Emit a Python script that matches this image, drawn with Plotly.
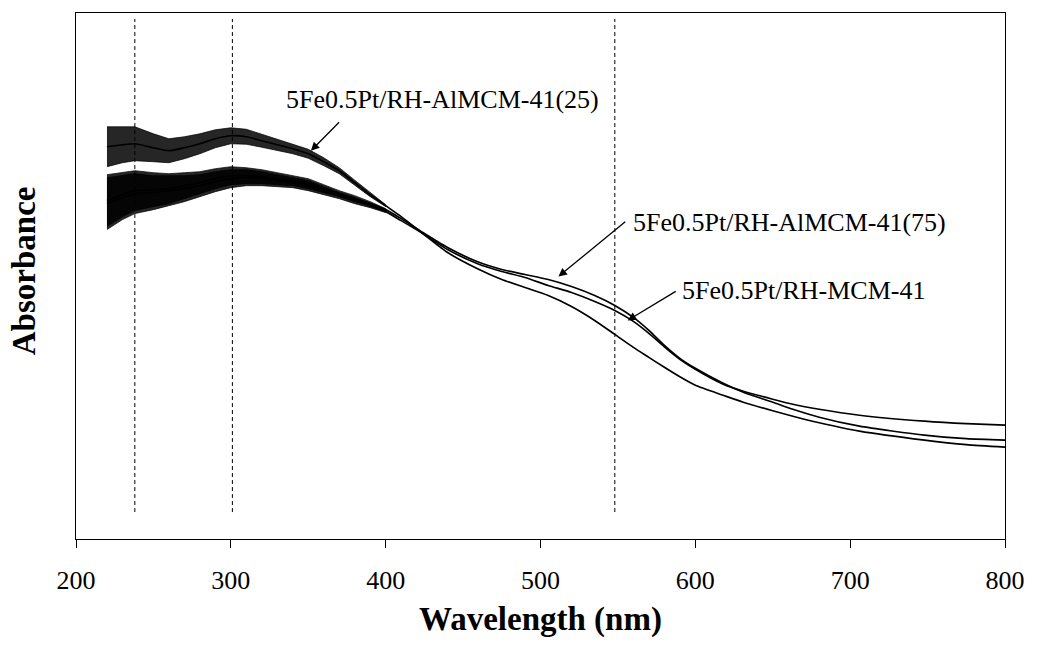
import plotly.graph_objects as go

wavelength = [220, 230, 238, 250, 260, 270, 280, 290, 300, 310, 320, 330, 340, 350,
              360, 370, 380, 390, 400, 410, 424, 440, 459, 475, 490, 505, 520, 535,
              548, 560, 570, 580, 590, 600, 618, 631, 650, 663, 680, 706, 748, 775, 800]

# Absorbance (a.u.)
abs_almcm25 = [0.786, 0.790, 0.792, 0.784, 0.778, 0.784, 0.792, 0.802, 0.808, 0.806,
               0.798, 0.790, 0.782, 0.772, 0.756, 0.738, 0.714, 0.690, 0.668, 0.646,
               0.612, 0.574, 0.542, 0.520, 0.504, 0.488, 0.466, 0.438, 0.410, 0.384,
               0.364, 0.344, 0.325, 0.308, 0.288, 0.274, 0.257, 0.246, 0.233, 0.216,
               0.198, 0.189, 0.184]
abs_almcm75 = [0.678, 0.690, 0.698, 0.700, 0.702, 0.708, 0.714, 0.722, 0.728, 0.728,
               0.726, 0.722, 0.718, 0.712, 0.702, 0.692, 0.682, 0.672, 0.660, 0.642,
               0.614, 0.584, 0.556, 0.540, 0.530, 0.520, 0.506, 0.488, 0.468, 0.444,
               0.418, 0.388, 0.362, 0.342, 0.312, 0.294, 0.274, 0.260, 0.244, 0.226,
               0.208, 0.201, 0.198]
abs_mcm = [0.672, 0.684, 0.692, 0.694, 0.698, 0.702, 0.708, 0.716, 0.722, 0.724,
           0.722, 0.718, 0.714, 0.708, 0.698, 0.688, 0.678, 0.668, 0.656, 0.638,
           0.612, 0.580, 0.552, 0.536, 0.524, 0.508, 0.494, 0.476, 0.458, 0.436,
           0.412, 0.385, 0.360, 0.340, 0.310, 0.296, 0.280, 0.270, 0.260, 0.248,
           0.236, 0.231, 0.228]

noise_almcm25 = [0.040, 0.036, 0.034, 0.028, 0.024, 0.022, 0.020, 0.018, 0.016, 0.015,
                 0.013, 0.011, 0.010, 0.009, 0.008, 0.006, 0.005, 0.004, 0.002]
noise_lower = [0.052, 0.044, 0.040, 0.034, 0.030, 0.026, 0.022, 0.020, 0.018, 0.016,
               0.014, 0.012, 0.010, 0.010, 0.008, 0.006, 0.006, 0.004, 0.002]

# Reference wavelengths marked with dashed lines (nm)
marker_lines = [238, 301, 548]

series = [
    ("5Fe0.5Pt/RH-AlMCM-41(25)", abs_almcm25, noise_almcm25),
    ("5Fe0.5Pt/RH-AlMCM-41(75)", abs_almcm75, noise_lower),
    ("5Fe0.5Pt/RH-MCM-41", abs_mcm, noise_lower),
]

FONT = "Liberation Serif, Times New Roman, serif"
fig = go.Figure()

for name, vals, noise in series:
    n = len(noise)
    xs = wavelength[:n]
    upper = [v + a for v, a in zip(vals[:n], noise)]
    lower = [v - a for v, a in zip(vals[:n], noise)]
    fig.add_trace(go.Scatter(
        x=xs + xs[::-1], y=upper + lower[::-1], fill="toself",
        fillcolor="rgba(0,0,0,0.85)", line=dict(width=0.8, color="rgba(0,0,0,0.9)"),
        hoverinfo="skip", showlegend=False))
    fig.add_trace(go.Scatter(
        x=wavelength, y=vals, mode="lines", name=name,
        line=dict(color="black", width=1.7, shape="spline", smoothing=0.6),
        showlegend=False))

for wl in marker_lines:
    fig.add_shape(type="line", xref="x", yref="y", x0=wl, x1=wl, y0=0.054, y1=1.042,
                  line=dict(color="black", width=1, dash="4px,3px"))

# labels and arrows
labels = [
    ("5Fe0.5Pt/RH-AlMCM-41(25)", 334.5, 0.880, 370.9, 0.838, 351.7, 0.778),
    ("5Fe0.5Pt/RH-AlMCM-41(75)", 558.3, 0.634, 555.7, 0.638, 511.6, 0.526),
    ("5Fe0.5Pt/RH-MCM-41", 590.2, 0.498, 588.3, 0.498, 556.3, 0.438),
]
for text, tx, ty, ax, ay, hx, hy in labels:
    fig.add_annotation(x=tx, y=ty, xref="x", yref="y", text=text, showarrow=False,
                       xanchor="left", yanchor="middle",
                       font=dict(family=FONT, size=26, color="black"))
    fig.add_annotation(x=hx, y=hy, ax=ax, ay=ay, xref="x", yref="y", axref="x", ayref="y",
                       text="", showarrow=True, arrowhead=2, arrowsize=1.3,
                       arrowwidth=1.3, arrowcolor="black", standoff=0, startstandoff=0)

# axis titles
fig.add_annotation(x=0.5, y=-0.153, xref="paper", yref="paper", text="<b>Wavelength (nm)</b>",
                   showarrow=False, xanchor="center", yanchor="middle",
                   font=dict(family=FONT, size=33, color="black"))
fig.add_annotation(x=-0.0565, y=0.51, xref="paper", yref="paper", text="<b>Absorbance</b>",
                   showarrow=False, xanchor="center", yanchor="middle", textangle=-90,
                   font=dict(family=FONT, size=33, color="black"))

fig.update_xaxes(range=[200, 800], tickvals=[200, 300, 400, 500, 600, 700, 800],
                 ticks="outside", ticklen=8, tickwidth=1, tickcolor="black",
                 showline=True, linecolor="black", linewidth=1.3, mirror=True,
                 showgrid=False, zeroline=False, ticklabelstandoff=10,
                 tickfont=dict(family=FONT, size=26, color="black"))
fig.update_yaxes(range=[0, 1.054], showticklabels=False, ticks="",
                 showline=True, linecolor="black", linewidth=1.3, mirror=True,
                 showgrid=False, zeroline=False)

fig.update_layout(width=1037, height=648, margin=dict(l=76, r=23, t=12, b=109),
                  paper_bgcolor="white", plot_bgcolor="white",
                  font=dict(family=FONT, color="black"))

fig.write_html("out.html", config={"displayModeBar": False},
               post_script="document.body.style.margin='0';document.body.style.overflow='hidden';")
